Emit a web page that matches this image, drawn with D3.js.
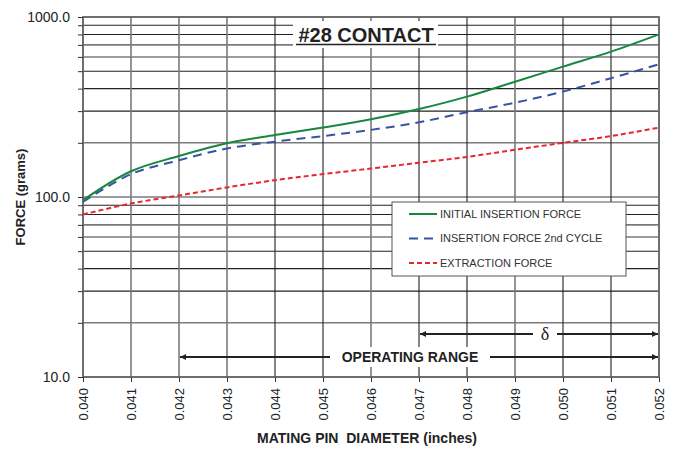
<!DOCTYPE html>
<html><head><meta charset="utf-8">
<script src="https://cdn.jsdelivr.net/npm/d3@7"></script>
<style>body{margin:0;background:#fff}svg{display:block;font-family:"Liberation Sans",Arial,sans-serif}</style>
</head><body><svg id="c" width="677" height="450"></svg>
<script>
const diameters = [0.040,0.041,0.042,0.043,0.044,0.045,0.046,0.047,0.048,0.049,0.050,0.051,0.052];
const initialInsertion = [96,139,169,199,221,243,270,308,361,437,530,642,801];
const secondCycle = [94,134,160,186,203,218,236,260,296,334,385,457,546];
const extraction = [80,92,102,113,124,134,144,155,167,183,200,218,243];
const yTicks = [10,100,1000];
const seriesNames = ["INITIAL INSERTION FORCE","INSERTION FORCE 2nd CYCLE","EXTRACTION FORCE"];
const title = "#28 CONTACT";
const operatingRange = [0.042,0.052];
const deltaRange = [0.047,0.052];

const svg = d3.select("#c");
const L=83,R=659,T=17,B=377;
const x = d3.scaleLinear().domain([0.040,0.052]).range([L,R]);
const y = d3.scaleLog().domain([10,1000]).range([B,T]);

// grid
const minor = [];
for (let d of [10,100]) for (let k=1;k<10;k++) minor.push(d*k);
minor.push(1000);
const hg = svg.append("g");
minor.forEach((v,i)=>{
  const k = Math.round(v/Math.pow(10,Math.floor(Math.log10(v)+1e-9)));
  const grey = (k===1||k===2||k===7||k===6);
  hg.append("line").attr("x1",L).attr("x2",R).attr("y1",y(v)).attr("y2",y(v))
    .attr("stroke",grey?"#7a7a7a":"#222").attr("stroke-width",grey?1.6:1.1);
});
const vg = svg.append("g");
diameters.forEach((d,i)=>{
  const grey = (i===0||i===1||i===2||i===3||i===6||i===9||i===12);
  vg.append("line").attr("x1",x(d)).attr("x2",x(d)).attr("y1",T).attr("y2",B)
    .attr("stroke",grey?"#7a7a7a":"#222").attr("stroke-width",grey?1.6:1.1);
});
// frame
svg.append("rect").attr("x",L).attr("y",T).attr("width",R-L).attr("height",B-T)
  .attr("fill","none").attr("stroke","#6a6a6a").attr("stroke-width",1.8);

// axes
const yAxis = d3.axisLeft(y).tickValues(minor).tickSize(5).tickFormat(d=>yTicks.includes(d)?d3.format(".1f")(d):"");
const ya = svg.append("g").attr("transform",`translate(${L},0)`).call(yAxis);
ya.select(".domain").remove();
ya.selectAll(".tick line").attr("stroke","#333");
ya.selectAll("text").attr("font-size",14).attr("fill","#222").attr("x",-13).attr("font-family","Liberation Sans, Arial");

const xAxis = d3.axisBottom(x).tickValues(diameters).tickSize(5).tickFormat(d3.format(".3f"));
const xa = svg.append("g").attr("transform",`translate(0,${B})`).call(xAxis);
xa.select(".domain").remove();
xa.selectAll(".tick line").attr("stroke","#333");
xa.selectAll("text").attr("font-size",13).attr("fill","#222").attr("font-family","Liberation Sans, Arial")
  .attr("transform","rotate(-90)").attr("text-anchor","end").attr("x",-11).attr("y",0).attr("dy","0.35em");

// axis titles
svg.append("text").attr("transform",`translate(25,197) rotate(-90)`).attr("text-anchor","middle")
  .attr("font-size",13).attr("font-weight","bold").attr("fill","#222").text("FORCE (grams)");
svg.append("text").attr("x",367).attr("y",443).attr("text-anchor","middle").style("white-space","pre")
  .attr("font-size",14).attr("font-weight","bold").attr("fill","#222").text("MATING PIN  DIAMETER (inches)");

// series
const line = d3.line().x((d,i)=>x(diameters[i])).y(d=>y(d)).curve(d3.curveCatmullRom.alpha(0.5));
svg.append("path").datum(extraction).attr("d",line).attr("fill","none").attr("stroke","#e8262c").attr("stroke-width",2).attr("stroke-dasharray","5,3");
svg.append("path").datum(secondCycle).attr("d",line).attr("fill","none").attr("stroke","#3653a4").attr("stroke-width",2).attr("stroke-dasharray","9,6");
svg.append("path").datum(initialInsertion).attr("d",line).attr("fill","none").attr("stroke","#17873f").attr("stroke-width",2);

// title
const tg = svg.append("g");
tg.append("rect").attr("x",293).attr("y",21).attr("width",145).attr("height",27).attr("fill","#fff");
tg.append("text").attr("x",366).attr("y",42).attr("text-anchor","middle").attr("font-size",20).attr("font-weight","bold").attr("fill","#222").text(title);
tg.append("line").attr("x1",296).attr("x2",436).attr("y1",44.5).attr("y2",44.5).attr("stroke","#222").attr("stroke-width",1.5);

// legend
const lg = svg.append("g");
lg.append("rect").attr("x",392).attr("y",202).attr("width",234).attr("height",74).attr("fill","#fff").attr("stroke","#555").attr("stroke-width",1);
const styles=[{c:"#17873f",d:null},{c:"#3653a4",d:"9,6"},{c:"#e8262c",d:"5,3"}];
seriesNames.forEach((n,i)=>{
  const yy=214+i*24.5;
  const l=lg.append("line").attr("x1",409).attr("x2",437).attr("y1",yy).attr("y2",yy).attr("stroke",styles[i].c).attr("stroke-width",2);
  if(styles[i].d) l.attr("stroke-dasharray",styles[i].d);
  lg.append("text").attr("x",440).attr("y",yy).attr("dy","0.35em").attr("font-size",11).attr("fill","#333").text(n);
});

// arrows
const defs = svg.append("defs");
defs.append("marker").attr("id","ah").attr("viewBox","0 0 10 10").attr("refX",10).attr("refY",5)
  .attr("markerWidth",9).attr("markerHeight",6).attr("markerUnits","userSpaceOnUse").attr("orient","auto-start-reverse")
  .append("path").attr("d","M0,0L10,5L0,10Z").attr("fill","#222");
function arrow(r, yy, label, lx, font, size, weight, w){
  const g=svg.append("g");
  g.append("line").attr("x1",x(r[0])+1).attr("x2",x(r[1])-1).attr("y1",yy).attr("y2",yy)
   .attr("stroke","#222").attr("stroke-width",2).attr("marker-start","url(#ah)").attr("marker-end","url(#ah)");
  g.append("rect").attr("x",lx-w/2).attr("y",yy-10).attr("width",w).attr("height",20).attr("fill","#fff");
  g.append("text").attr("x",lx).attr("y",yy).attr("dy","0.35em").attr("text-anchor","middle")
   .attr("font-family",font).attr("font-size",size).attr("font-weight",weight).attr("fill","#222").text(label);
}
arrow(operatingRange,357,"OPERATING RANGE",410,"Liberation Sans, Arial",14,"bold",160);
arrow(deltaRange,334,"δ",545,"Liberation Serif, Times New Roman, serif",18,"normal",24);
</script></body></html>
